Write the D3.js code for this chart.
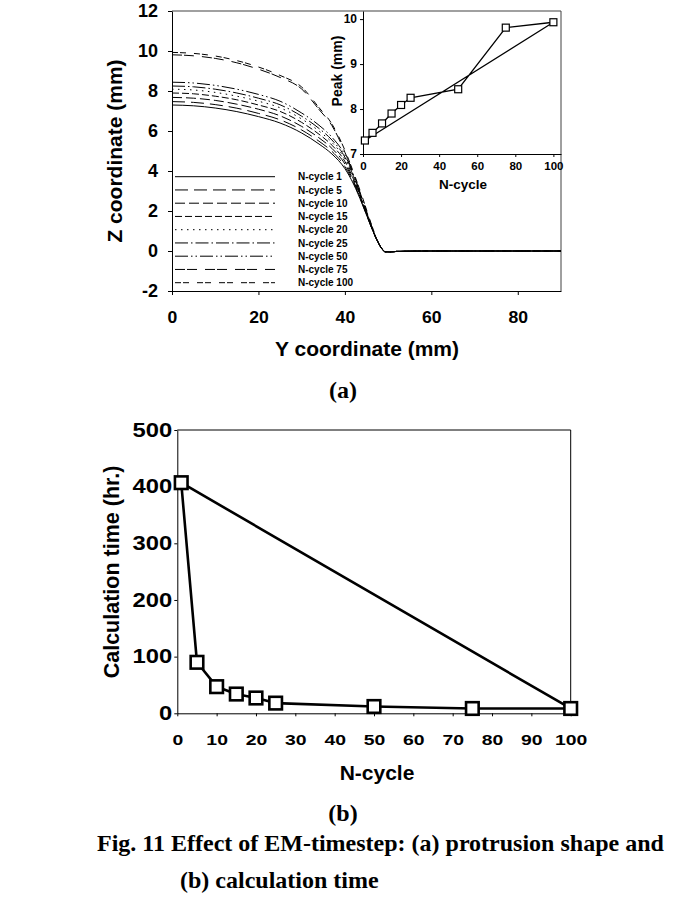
<!DOCTYPE html>
<html><head><meta charset="utf-8">
<script src="https://cdn.jsdelivr.net/npm/d3@7"></script>
<style>
html,body{margin:0;padding:0;background:#fff;}
svg text{font-family:"Liberation Sans",Arial,sans-serif;font-weight:bold;fill:#000;}
svg text.serif{font-family:"Liberation Serif","Times New Roman",serif;}
</style></head>
<body>
<svg id="c" width="694" height="914"></svg>
<script>
// ---------- DATA ----------
// (a) protrusion profiles: Y coordinate (mm) grid and Z (mm) per N-cycle
const yCoord = [0, 5, 10, 15, 20, 25, 30, 34, 37, 40, 42, 44, 46, 47.4, 48.5, 49.3, 50.5, 52, 60, 70, 80, 90];
const zN1   = [7.30, 7.26, 7.15, 6.97, 6.72, 6.40, 5.90, 5.35, 4.85, 4.12, 3.35, 2.35, 1.25, 0.55, 0.13, -0.04, -0.05, -0.02, 0, 0, 0, 0];
const zN5   = [7.47, 7.43, 7.32, 7.14, 6.88, 6.56, 6.05, 5.49, 4.98, 4.22, 3.42, 2.38, 1.26, 0.55, 0.13, -0.04, -0.05, -0.02, 0, 0, 0, 0];
const zN10  = [7.68, 7.64, 7.53, 7.34, 7.09, 6.76, 6.23, 5.66, 5.13, 4.35, 3.50, 2.43, 1.27, 0.55, 0.13, -0.04, -0.05, -0.02, 0, 0, 0, 0];
const zN15  = [7.90, 7.86, 7.74, 7.56, 7.30, 6.98, 6.43, 5.84, 5.29, 4.48, 3.59, 2.47, 1.28, 0.55, 0.13, -0.04, -0.05, -0.02, 0, 0, 0, 0];
const zN20  = [8.09, 8.05, 7.93, 7.74, 7.49, 7.16, 6.60, 6.00, 5.43, 4.59, 3.67, 2.51, 1.29, 0.56, 0.13, -0.04, -0.05, -0.02, 0, 0, 0, 0];
const zN25  = [8.25, 8.21, 8.09, 7.90, 7.64, 7.31, 6.74, 6.13, 5.55, 4.69, 3.73, 2.54, 1.30, 0.56, 0.13, -0.04, -0.05, -0.02, 0, 0, 0, 0];
const zN50  = [8.44, 8.40, 8.28, 8.09, 7.83, 7.49, 6.90, 6.29, 5.69, 4.80, 3.81, 2.58, 1.31, 0.56, 0.13, -0.04, -0.05, -0.02, 0, 0, 0, 0];
const zN75  = [9.81, 9.76, 9.63, 9.41, 9.09, 8.68, 8.10, 7.08, 6.27, 4.94, 3.85, 2.62, 1.37, 0.58, 0.14, -0.03, -0.05, -0.02, 0, 0, 0, 0];
const zN100 = [9.93, 9.88, 9.75, 9.52, 9.20, 8.78, 8.20, 7.17, 6.35, 5.04, 3.93, 2.72, 1.42, 0.60, 0.14, -0.03, -0.05, -0.02, 0, 0, 0, 0];
const seriesNames = ["N-cycle 1","N-cycle 5","N-cycle 10","N-cycle 15","N-cycle 20","N-cycle 25","N-cycle 50","N-cycle 75","N-cycle 100"];
const seriesZ = [zN1, zN5, zN10, zN15, zN20, zN25, zN50, zN75, zN100];

// inset: peak (mm) vs N-cycle
const nCycle = [1, 5, 10, 15, 20, 25, 50, 75, 100];
const peak   = [7.30, 7.47, 7.68, 7.90, 8.09, 8.25, 8.44, 9.81, 9.93];

// (b) calculation time (hr.) vs N-cycle
const calcTime = [407, 90, 47, 34, 27, 18, 12, 8.5, 8.5];

// tick labels
const ticksAX = [0, 20, 40, 60, 80];
const ticksAY = [-2, 0, 2, 4, 6, 8, 10, 12];
const ticksIX = [0, 20, 40, 60, 80, 100];
const ticksIY = [7, 8, 9, 10];
const ticksBX = [0, 10, 20, 30, 40, 50, 60, 70, 80, 90, 100];
const ticksBY = [0, 100, 200, 300, 400, 500];

// ---------- DRAW ----------
const svg = d3.select("#c");
const fmt = d => String(d); // plain hyphen-minus, integer labels
const dashes = ["none", "13,6", "10,4", "7,3", "1.5,4.5", "13,3,1.5,3", "13,3,1.5,3,1.5,3", "10,2,10,8", "6,2,6,8"];

// ===== (a) main =====
const xA = d3.scaleLinear().domain([0, 90]).range([172, 561]);
const yA = d3.scaleLinear().domain([-2, 12]).range([291, 11]);

svg.append("line").attr("x1", 172).attr("x2", 561).attr("y1", 11).attr("y2", 11).attr("stroke", "#808080").attr("stroke-width", 1.5);
svg.append("line").attr("x1", 561).attr("x2", 561).attr("y1", 11).attr("y2", 291).attr("stroke", "#404040").attr("stroke-width", 1);

const lineA = d3.line().x((d, i) => xA(yCoord[i])).y(d => yA(d)).curve(d3.curveMonotoneX);
seriesZ.forEach((z, k) => {
  svg.append("path").attr("d", lineA(z)).attr("fill", "none").attr("stroke", "#000")
    .attr("stroke-width", 1).attr("stroke-dasharray", dashes[k]);
});

const axAX = svg.append("g").attr("transform", `translate(0,${yA(-2)})`)
  .call(d3.axisBottom(xA).tickValues(ticksAX).tickFormat(fmt).tickSize(4).tickPadding(17).tickSizeOuter(0));
axAX.selectAll("text").attr("font-size", 16).attr("transform", "scale(1.1,1)");
const axAY = svg.append("g").attr("transform", `translate(${xA(0)},0)`)
  .call(d3.axisLeft(yA).tickValues(ticksAY).tickFormat(fmt).tickSize(4).tickPadding(10).tickSizeOuter(0));
axAY.selectAll("text").attr("font-size", 18);
[axAX, axAY].forEach(a => { a.select(".domain").attr("stroke", "#000"); a.selectAll("line").attr("stroke", "#000"); });

svg.append("text").attr("x", 367).attr("y", 356).attr("text-anchor", "middle").attr("font-size", 21).text("Y coordinate (mm)");
svg.append("text").attr("transform", "translate(122,151) rotate(-90)").attr("text-anchor", "middle").attr("font-size", 21).text("Z coordinate (mm)");
svg.append("text").attr("class", "serif").attr("x", 343).attr("y", 398).attr("text-anchor", "middle").attr("font-size", 24).text("(a)");

// legend
seriesNames.forEach((name, k) => {
  const yy = 176.7 + k * 13.25;
  svg.append("line").attr("x1", 175).attr("x2", 275).attr("y1", yy).attr("y2", yy)
    .attr("stroke", "#000").attr("stroke-width", 1).attr("stroke-dasharray", dashes[k]);
  svg.append("text").attr("x", 298).attr("y", yy + 3.6).attr("font-size", 10).text(name);
});

// ===== inset =====
const xI = d3.scaleLinear().domain([0, 104]).range([363, 561]);
const yI = d3.scaleLinear().domain([7, 10.18]).range([154, 11]);
const axIX = svg.append("g").attr("transform", `translate(0,${yI(7)})`)
  .call(d3.axisBottom(xI).tickValues(ticksIX).tickFormat(fmt).tickSize(3).tickPadding(5).tickSizeOuter(0));
axIX.selectAll("text").attr("font-size", 11.5);
const axIY = svg.append("g").attr("transform", `translate(${xI(0)},0)`)
  .call(d3.axisLeft(yI).tickValues(ticksIY).tickFormat(fmt).tickSize(3).tickPadding(3).tickSizeOuter(0));
axIY.selectAll("text").attr("font-size", 12);
[axIX, axIY].forEach(a => { a.select(".domain").attr("stroke", "#000"); a.selectAll("line").attr("stroke", "#000"); });
svg.append("text").attr("x", 463).attr("y", 189).attr("text-anchor", "middle").attr("font-size", 13.5).text("N-cycle");
svg.append("text").attr("transform", "translate(342,71) rotate(-90)").attr("text-anchor", "middle").attr("font-size", 14).text("Peak (mm)");

const lineI = d3.line().x(d => xI(d[0])).y(d => yI(d[1]));
const inPts = nCycle.map((n, i) => [n, peak[i]]);
svg.append("path").attr("d", lineI(inPts.concat([inPts[0]]))).attr("fill", "none").attr("stroke", "#000").attr("stroke-width", 1.3);
svg.selectAll("rect.mi").data(inPts).enter().append("rect").attr("class", "mi")
  .attr("x", d => xI(d[0]) - 3.5).attr("y", d => yI(d[1]) - 3.5).attr("width", 7).attr("height", 7)
  .attr("fill", "#fff").attr("stroke", "#000").attr("stroke-width", 1.2);

// ===== (b) =====
const xB = d3.scaleLinear().domain([0, 100]).range([177.3, 570.7]);
const yB = d3.scaleLinear().domain([0, 500]).range([713.3, 430]);
svg.append("line").attr("x1", xB(0)).attr("x2", xB(100)).attr("y1", yB(500)).attr("y2", yB(500)).attr("stroke", "#000").attr("stroke-width", 1);
svg.append("line").attr("x1", xB(100)).attr("x2", xB(100)).attr("y1", yB(500)).attr("y2", yB(0)).attr("stroke", "#000").attr("stroke-width", 1);
const axBX = svg.append("g").attr("transform", `translate(0,${yB(0)})`)
  .call(d3.axisBottom(xB).tickValues(ticksBX).tickFormat(fmt).tickSize(3).tickPadding(18).tickSizeOuter(0));
axBX.selectAll("text").attr("font-size", 15.5).attr("transform", "scale(1.25,1)");
const axBY = svg.append("g").attr("transform", `translate(${xB(0)},0)`)
  .call(d3.axisLeft(yB).tickValues(ticksBY).tickFormat(fmt).tickSize(3).tickSizeOuter(0));
axBY.selectAll("text").attr("font-size", 19.5).attr("x", -5 / 1.22).attr("transform", "scale(1.22,1)");
[axBX, axBY].forEach(a => { a.select(".domain").attr("stroke", "#000"); a.selectAll("line").attr("stroke", "#000"); });

svg.append("text").attr("x", 377).attr("y", 780).attr("text-anchor", "middle").attr("font-size", 21).text("N-cycle");
svg.append("text").attr("transform", "translate(119,572) rotate(-90)").attr("text-anchor", "middle").attr("font-size", 21.5).text("Calculation time (hr.)");
svg.append("text").attr("class", "serif").attr("x", 343).attr("y", 821).attr("text-anchor", "middle").attr("font-size", 24).text("(b)");

const bPts = nCycle.map((n, i) => [n, calcTime[i]]);
const lineB = d3.line().x(d => xB(d[0])).y(d => yB(d[1]));
svg.append("path").attr("d", lineB(bPts.concat([bPts[0]]))).attr("fill", "none").attr("stroke", "#000").attr("stroke-width", 2.6).attr("stroke-linejoin", "round");
svg.selectAll("rect.mb").data(bPts).enter().append("rect").attr("class", "mb")
  .attr("x", d => xB(d[0]) - 6.3).attr("y", d => yB(d[1]) - 6.3).attr("width", 12.6).attr("height", 12.6)
  .attr("fill", "#fff").attr("stroke", "#000").attr("stroke-width", 2.6);

// ===== caption =====
svg.append("text").attr("class", "serif").attr("x", 97).attr("y", 851).attr("font-size", 24).text("Fig. 11 Effect of EM-timestep: (a) protrusion shape and");
svg.append("text").attr("class", "serif").attr("x", 180).attr("y", 888).attr("font-size", 24).text("(b) calculation time");
</script>
</body></html>
